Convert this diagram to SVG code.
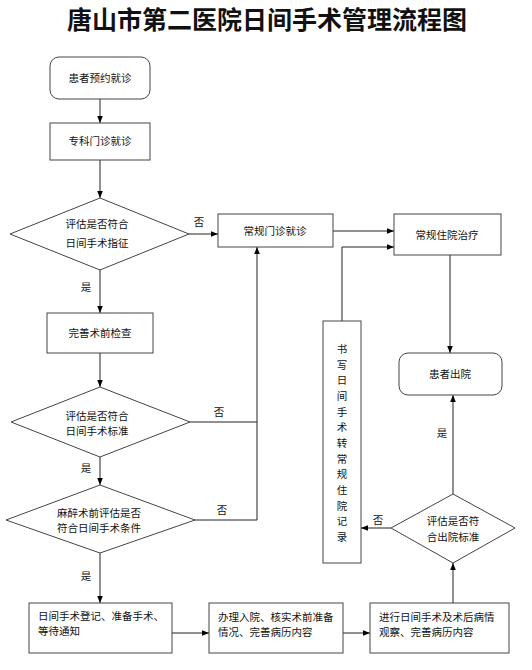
<svg xmlns="http://www.w3.org/2000/svg" width="532" height="670" viewBox="0 0 532 670">
<defs>
<marker id="arr" viewBox="0 0 10 10" refX="10" refY="5" markerWidth="7" markerHeight="7" orient="auto" markerUnits="userSpaceOnUse">
<path d="M0,1 L10,5 L0,9 z" fill="#000"/>
</marker>
<style>
.n{fill:#fff;stroke:#444;stroke-width:1}
.t{font-family:"Noto Sans CJK SC","Noto Sans",sans-serif;font-size:10.5px;fill:#111}
.c{text-anchor:middle}
.ttl{font-family:"Noto Sans CJK SC","Noto Sans",sans-serif;font-size:25px;font-weight:bold;fill:#111;text-anchor:middle}
.e{fill:none;stroke:#222;stroke-width:1}
.ea{fill:none;stroke:#222;stroke-width:1;marker-end:url(#arr)}
</style>
</defs>
<rect width="532" height="670" fill="#fff"/>
<text class="ttl" x="267" y="29">唐山市第二医院日间手术管理流程图</text>

<g id="connectors">
<line class="ea" x1="100" y1="99" x2="100" y2="123"/>
<line class="ea" x1="100" y1="160" x2="100" y2="198"/>
<line class="ea" x1="189" y1="234" x2="218" y2="234"/>
<line class="ea" x1="100" y1="270" x2="100" y2="313"/>
<line class="ea" x1="100" y1="353" x2="100" y2="387"/>
<line class="ea" x1="100" y1="457" x2="100" y2="485"/>
<line class="ea" x1="100" y1="553" x2="100" y2="603"/>
<polyline class="e" points="190,422 257,422"/>
<polyline class="ea" points="195,520 257,520 257,247"/>
<line class="ea" x1="333" y1="231" x2="394" y2="231"/>
<polyline class="ea" points="342,321 342,247 394,247"/>
<line class="ea" x1="450" y1="255" x2="450" y2="353"/>
<line class="ea" x1="453" y1="494" x2="453" y2="395"/>
<line class="ea" x1="391" y1="528" x2="361" y2="528"/>
<line class="ea" x1="453" y1="603" x2="453" y2="563"/>
<line class="ea" x1="172" y1="633" x2="209" y2="633"/>
<line class="ea" x1="343" y1="633" x2="370" y2="633"/>
<text class="t c" x="199" y="226">否</text>
<text class="t c" x="86" y="291">是</text>
<text class="t c" x="219" y="416">否</text>
<text class="t c" x="86" y="472">是</text>
<text class="t c" x="222" y="514">否</text>
<text class="t c" x="86" y="580">是</text>
<text class="t c" x="442" y="437">是</text>
<text class="t c" x="378" y="524">否</text>
</g>

<g id="n1"><rect class="n" x="50" y="57" width="100" height="42" rx="9"/><text class="t c" x="100" y="82">患者预约就诊</text></g>
<g id="n2"><rect class="n" x="50" y="123" width="100" height="37"/><text class="t c" x="100" y="145">专科门诊就诊</text></g>
<g id="d1"><polygon class="n" points="100,198 189,234 100,270 10,234"/><text class="t c" x="97" y="228">评估是否符合</text><text class="t c" x="97" y="247">日间手术指征</text></g>
<g id="n3"><rect class="n" x="218" y="214" width="115" height="33"/><text class="t c" x="275" y="235">常规门诊就诊</text></g>
<g id="n4"><rect class="n" x="394" y="214" width="107" height="41"/><text class="t c" x="447" y="239">常规住院治疗</text></g>
<g id="n5"><rect class="n" x="47" y="313" width="106" height="40"/><text class="t c" x="100" y="337">完善术前检查</text></g>
<g id="d2"><polygon class="n" points="100,387 190,422 100,457 11,422"/><text class="t c" x="97" y="420">评估是否符合</text><text class="t c" x="97" y="435">日间手术标准</text></g>
<g id="d3"><polygon class="n" points="100,485 195,520 100,553 6,520"/><text class="t c" x="99" y="517">麻醉术前评估是否</text><text class="t c" x="99" y="532">符合日间手术条件</text></g>
<g id="n6"><rect class="n" x="323" y="321" width="38" height="242"/>
<text class="t c" x="342" y="353">书</text><text class="t c" x="342" y="368.7">写</text><text class="t c" x="342" y="384.3">日</text><text class="t c" x="342" y="400">间</text><text class="t c" x="342" y="415.7">手</text><text class="t c" x="342" y="431.3">术</text><text class="t c" x="342" y="447">转</text><text class="t c" x="342" y="462.7">常</text><text class="t c" x="342" y="478.3">规</text><text class="t c" x="342" y="494">住</text><text class="t c" x="342" y="509.7">院</text><text class="t c" x="342" y="525.3">记</text><text class="t c" x="342" y="541">录</text></g>
<g id="n7"><rect class="n" x="399" y="353" width="103" height="42" rx="9"/><text class="t c" x="450" y="378">患者出院</text></g>
<g id="d4"><polygon class="n" points="453,494 515,528 453,563 391,528"/><text class="t c" x="453" y="525">评估是否符</text><text class="t c" x="453" y="541">合出院标准</text></g>
<g id="n8"><rect class="n" x="29" y="603" width="143" height="50"/><text class="t" x="38" y="620">日间手术登记、准备手术、</text><text class="t" x="38" y="635">等待通知</text></g>
<g id="n9"><rect class="n" x="209" y="603" width="134" height="50"/><text class="t" x="218" y="621">办理入院、核实术前准备</text><text class="t" x="218" y="636">情况、完善病历内容</text></g>
<g id="n10"><rect class="n" x="370" y="603" width="139" height="50"/><text class="t" x="379" y="621">进行日间手术及术后病情</text><text class="t" x="379" y="636">观察、完善病历内容</text></g>
</svg>
